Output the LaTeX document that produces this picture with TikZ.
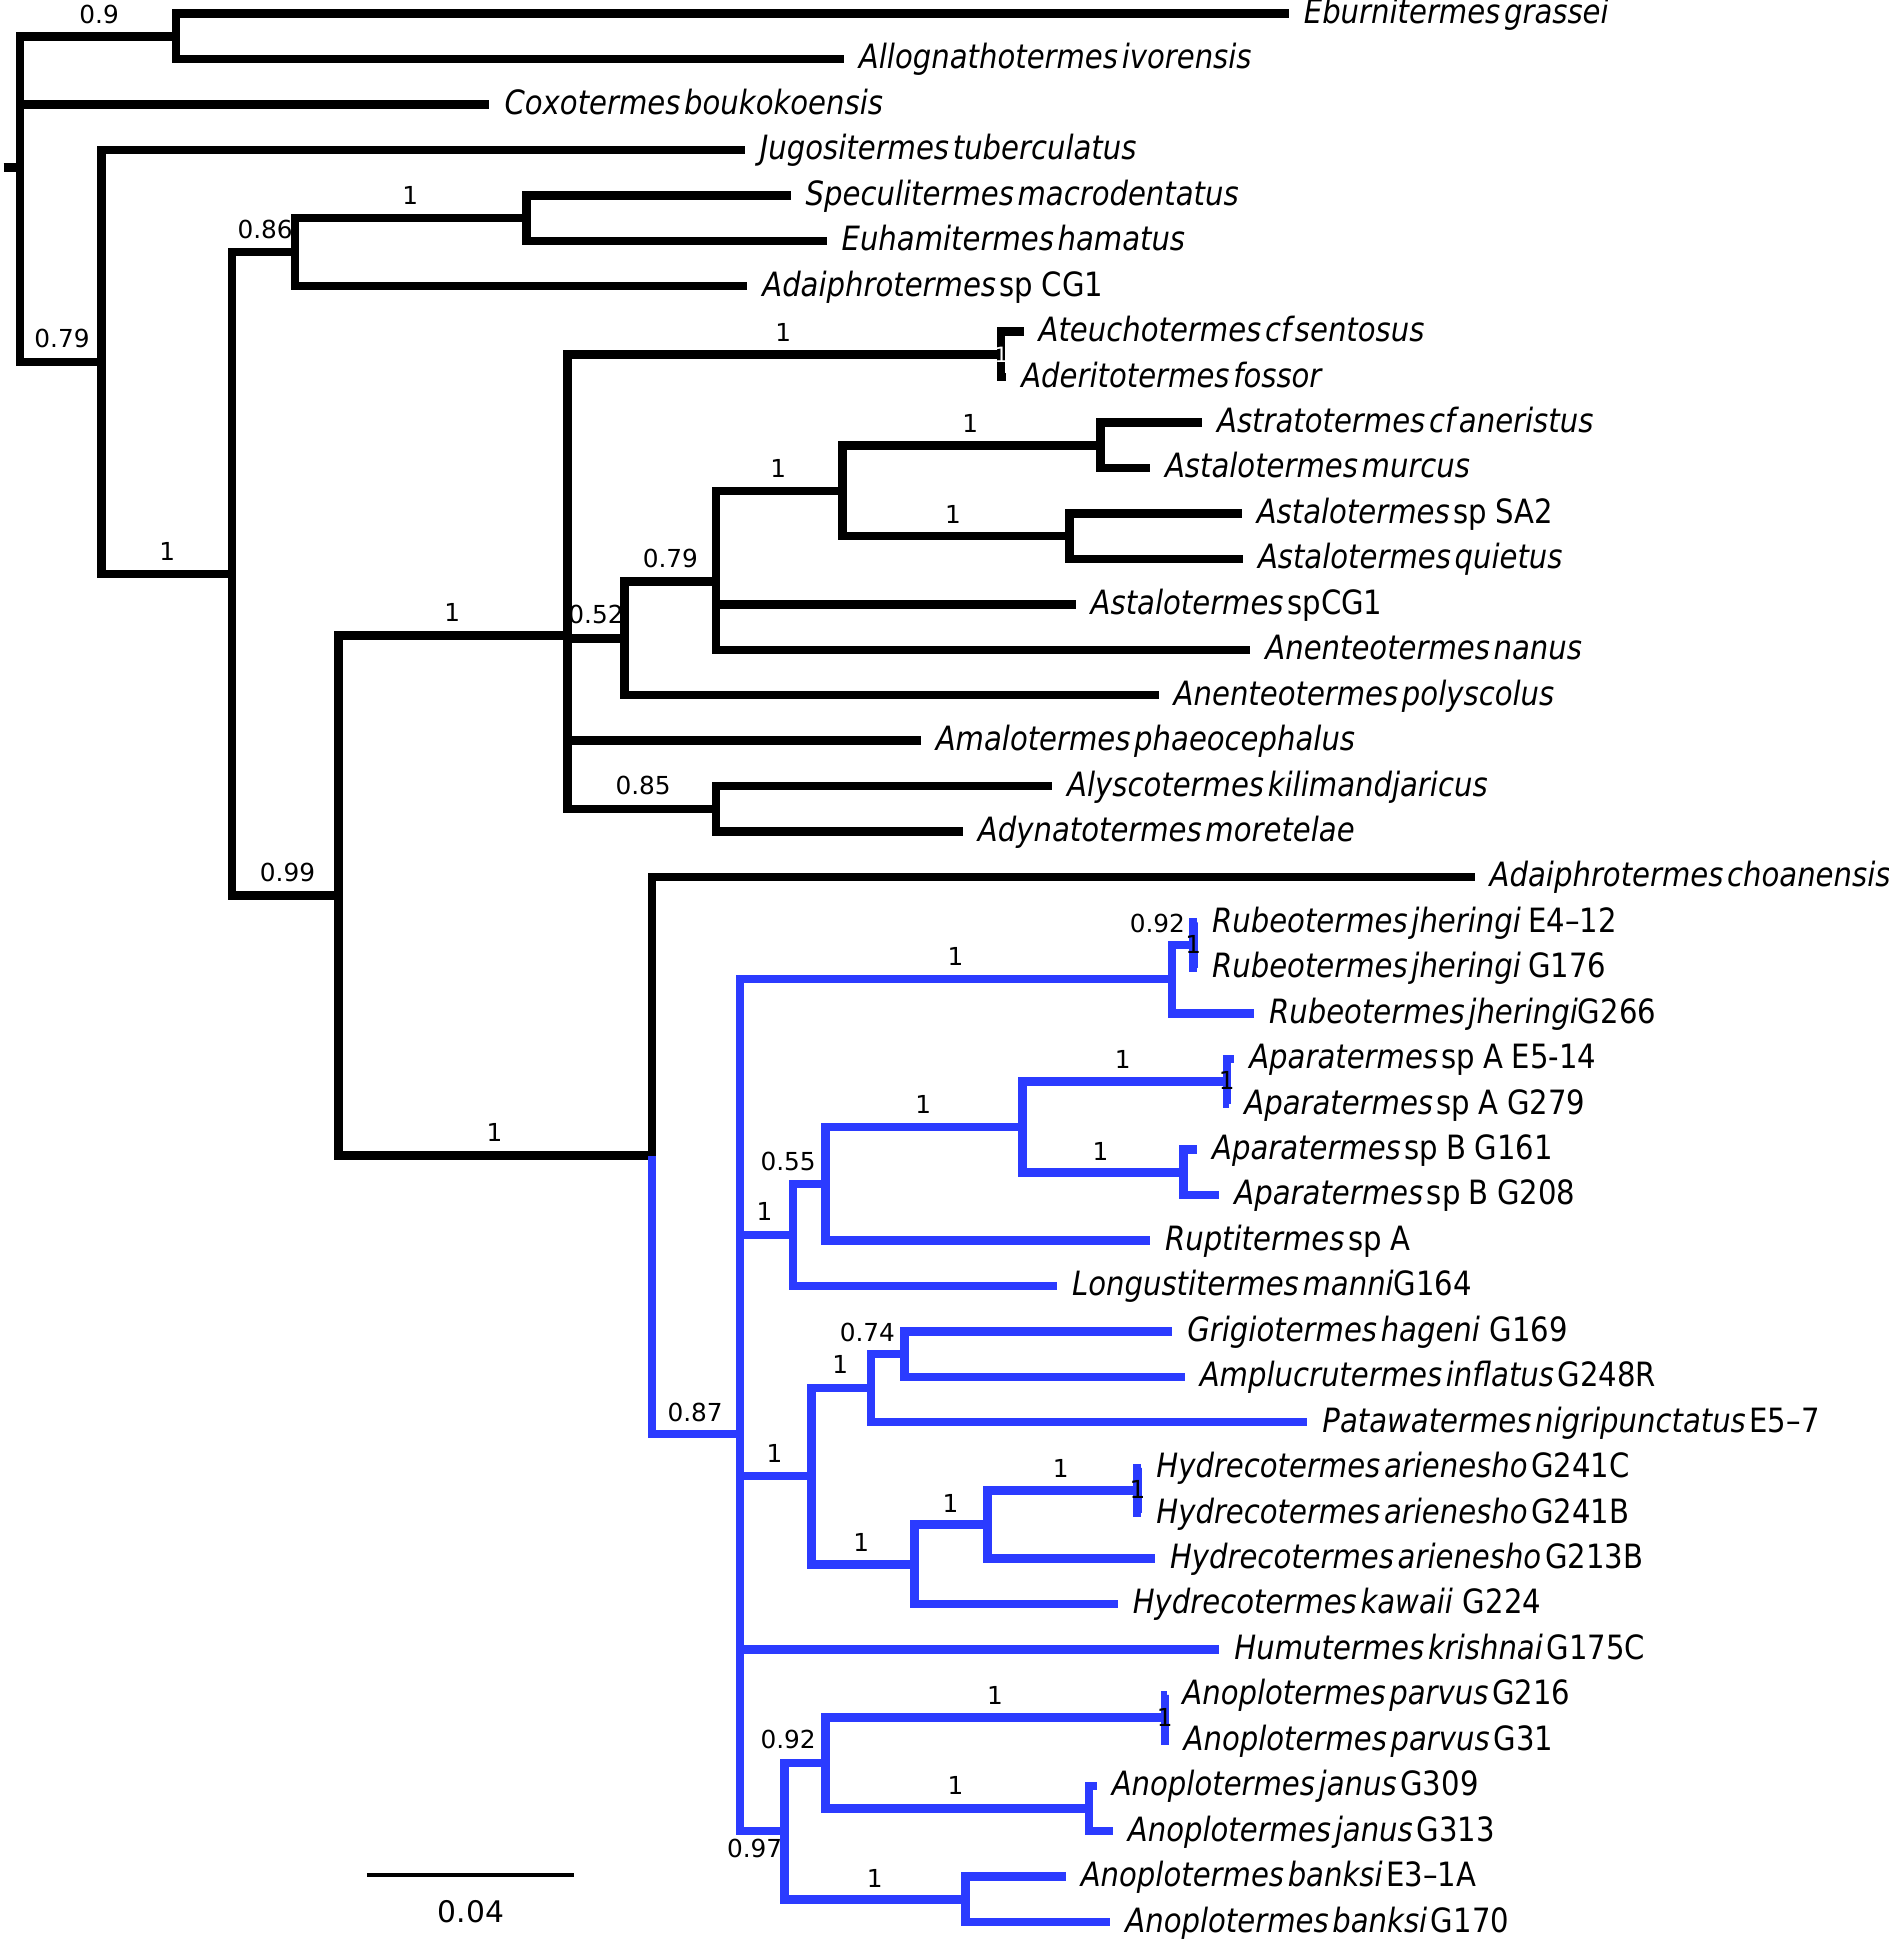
\documentclass[tikz,border=0pt]{standalone}
\usepackage{fontspec}
\setmainfont{DejaVu Sans}[FakeStretch=0.87, WordSpace=0.4]
\newfontfamily\upfam{DejaVu Sans}[FakeStretch=0.87, WordSpace=0.9]
\newfontfamily\supfont{DejaVu Sans}
\definecolor{treeblue}{RGB}{43,59,255}
\tikzset{
  br/.style={line width=6.8pt, line join=miter, line cap=butt},
  blk/.style={br, draw=black},
  blu/.style={br, draw=treeblue},
  lab/.style={anchor=base west, inner sep=0pt, font=\fontsize{27}{29}\selectfont\itshape},
  sup/.style={inner sep=0pt, font=\supfont\fontsize{20}{22}\selectfont},
  supw/.style={sup, text=white, font=\supfont\fontsize{17}{19}\selectfont},
}
\newcommand\up[1]{{\upfam\upshape #1}}
\newcommand\leaf[4]{%
  \coordinate (#1) at (#2,#3);
  \node[lab, xshift=12pt, yshift=-8pt] (#1n) at (#1) {#4};}
\begin{document}
\begin{tikzpicture}[x=1pt,y=-1pt]
\useasboundingbox (0,0) rectangle (1524,1568);
% leaves
\leaf{t1}{1040}{11.00}{Eburnitermes grassei}
\leaf{t2}{681}{47.67}{Allognathotermes ivorensis}
\leaf{t3}{395}{84.34}{Coxotermes boukokoensis}
\leaf{t4}{601}{121.01}{Jugositermes tuberculatus}
\leaf{t5}{638}{157.68}{Speculitermes macrodentatus}
\leaf{t6}{667}{194.35}{Euhamitermes hamatus}
\leaf{t7}{603}{231.02}{Adaiphrotermes \up{sp CG1}}
\leaf{t8}{826}{267.69}{Ateuchotermes cf sentosus}
\leaf{t9}{812}{304.36}{Aderitotermes fossor}
\leaf{t10}{970}{341.03}{Astratotermes cf aneristus}
\leaf{t11}{928}{377.70}{Astalotermes murcus}
\leaf{t12}{1002}{414.37}{Astalotermes \up{sp SA2}}
\leaf{t13}{1003}{451.04}{Astalotermes quietus}
\leaf{t14}{868}{487.71}{Astalotermes \up{spCG1}}
\leaf{t15}{1009}{524.38}{Anenteotermes nanus}
\leaf{t16}{935}{561.05}{Anenteotermes polyscolus}
\leaf{t17}{743}{597.72}{Amalotermes phaeocephalus}
\leaf{t18}{849}{634.39}{Alyscotermes kilimandjaricus}
\leaf{t19}{777}{671.06}{Adynatotermes moretelae}
\leaf{t20}{1190}{707.73}{Adaiphrotermes choanensis}
\leaf{t21}{966}{744.40}{Rubeotermes jheringi\hspace{6pt}\up{E4–12}}
\leaf{t22}{966}{781.07}{Rubeotermes jheringi\hspace{6pt}\up{G176}}
\leaf{t23}{1012}{817.74}{Rubeotermes jheringi\up{G266}}
\leaf{t24}{996}{854.41}{Aparatermes \up{sp A E5-14}}
\leaf{t25}{992}{891.08}{Aparatermes \up{sp A G279}}
\leaf{t26}{966}{927.75}{Aparatermes \up{sp B G161}}
\leaf{t27}{984}{964.42}{Aparatermes \up{sp B G208}}
\leaf{t28}{928}{1001.09}{Ruptitermes \up{sp A}}
\leaf{t29}{853}{1037.76}{Longustitermes manni\up{G164}}
\leaf{t30}{946}{1074.43}{Grigiotermes hageni\hspace{8pt}\up{G169}}
\leaf{t31}{956}{1111.10}{Amplucrutermes inflatus \up{G248R}}
\leaf{t32}{1055}{1147.77}{Patawatermes nigripunctatus \up{E5–7}}
\leaf{t33}{921}{1184.44}{Hydrecotermes arienesho \up{G241C}}
\leaf{t34}{921}{1221.11}{Hydrecotermes arienesho \up{G241B}}
\leaf{t35}{932}{1257.78}{Hydrecotermes arienesho \up{G213B}}
\leaf{t36}{902}{1294.45}{Hydrecotermes kawaii\hspace{8pt}\up{G224}}
\leaf{t37}{984}{1331.12}{Humutermes krishnai \up{G175C}}
\leaf{t38}{942}{1367.79}{Anoplotermes parvus \up{G216}}
\leaf{t39}{943}{1404.46}{Anoplotermes parvus \up{G31}}
\leaf{t40}{885}{1441.13}{Anoplotermes janus \up{G309}}
\leaf{t41}{898}{1477.80}{Anoplotermes janus \up{G313}}
\leaf{t42}{860}{1514.47}{Anoplotermes banksi \up{E3–1A}}
\leaf{t43}{896}{1551.14}{Anoplotermes banksi \up{G170}}
% internal nodes
\coordinate (rs) at (3,135.25);
\coordinate (root) at (16,135.25);
\coordinate (A) at (142,29.33);
\coordinate (B) at (82,292.07);
\coordinate (C) at (187,463.13);
\coordinate (D) at (238,203.52);
\coordinate (E) at (425,176.02);
\coordinate (F) at (273,722.74);
\coordinate (G) at (458,512.92);
\coordinate (H) at (808,286.03);
\coordinate (I) at (504,515.20);
\coordinate (J) at (578,469.38);
\coordinate (K) at (680,396.04);
\coordinate (L) at (888,359.37);
\coordinate (M) at (863,432.71);
\coordinate (N) at (578,652.73);
\coordinate (O) at (526,932.57);
\coordinate (P) at (597,1157.40);
\coordinate (Q) at (946,790.24);
\coordinate (R) at (963,762.74);
\coordinate (S) at (640,996.51);
\coordinate (T) at (666,955.26);
\coordinate (U) at (825,909.42);
\coordinate (V) at (990,872.75);
\coordinate (W) at (955,946.09);
\coordinate (X) at (655,1191.32);
\coordinate (Y) at (703,1120.27);
\coordinate (Z) at (730,1092.77);
\coordinate (AA) at (738,1262.37);
\coordinate (AB) at (797,1230.28);
\coordinate (AC) at (918,1202.78);
\coordinate (AD) at (633,1477.80);
\coordinate (AE) at (666,1422.80);
\coordinate (AF) at (940,1386.13);
\coordinate (AG) at (879,1459.47);
\coordinate (AH) at (779,1532.81);
% black branches
\draw[blk] (rs) -- (root);
\foreach \c in {A,t3,B} \draw[blk] (root) |- (\c);
\foreach \c in {t1,t2} \draw[blk] (A) |- (\c);
\foreach \c in {t4,C} \draw[blk] (B) |- (\c);
\foreach \c in {D,F} \draw[blk] (C) |- (\c);
\foreach \c in {E,t7} \draw[blk] (D) |- (\c);
\foreach \c in {t5,t6} \draw[blk] (E) |- (\c);
\foreach \c in {G,O} \draw[blk] (F) |- (\c);
\foreach \c in {H,I,t17,N} \draw[blk] (G) |- (\c);
\foreach \c in {t8,t9} \draw[blk] (H) |- (\c);
\foreach \c in {J,t16} \draw[blk] (I) |- (\c);
\foreach \c in {K,t14,t15} \draw[blk] (J) |- (\c);
\foreach \c in {L,M} \draw[blk] (K) |- (\c);
\foreach \c in {t10,t11} \draw[blk] (L) |- (\c);
\foreach \c in {t12,t13} \draw[blk] (M) |- (\c);
\foreach \c in {t18,t19} \draw[blk] (N) |- (\c);
% blue branches
\draw[blu] (O) |- (P);
\draw[blk] (O) |- (t20);
\foreach \c in {Q,S,X,t37,AD} \draw[blu] (P) |- (\c);
\foreach \c in {R,t23} \draw[blu] (Q) |- (\c);
\foreach \c in {t21,t22} \draw[blu] (R) |- (\c);
\foreach \c in {T,t29} \draw[blu] (S) |- (\c);
\foreach \c in {U,t28} \draw[blu] (T) |- (\c);
\foreach \c in {V,W} \draw[blu] (U) |- (\c);
\foreach \c in {t24,t25} \draw[blu] (V) |- (\c);
\foreach \c in {t26,t27} \draw[blu] (W) |- (\c);
\foreach \c in {Y,AA} \draw[blu] (X) |- (\c);
\foreach \c in {Z,t32} \draw[blu] (Y) |- (\c);
\foreach \c in {t30,t31} \draw[blu] (Z) |- (\c);
\foreach \c in {AB,t36} \draw[blu] (AA) |- (\c);
\foreach \c in {AC,t35} \draw[blu] (AB) |- (\c);
\foreach \c in {t33,t34} \draw[blu] (AC) |- (\c);
\foreach \c in {AE,AH} \draw[blu] (AD) |- (\c);
\foreach \c in {AF,AG} \draw[blu] (AE) |- (\c);
\foreach \c in {t38,t39} \draw[blu] (AF) |- (\c);
\foreach \c in {t40,t41} \draw[blu] (AG) |- (\c);
\foreach \c in {t42,t43} \draw[blu] (AH) |- (\c);
% support values
\node[sup] (sA) at (80,12) {0.9};
\node[sup] (sB) at (50,273) {0.79};
\node[sup] (sC) at (135,445) {1};
\node[sup] (sD) at (214,185) {0.86};
\node[sup] (sE) at (331,158) {1};
\node[sup] (sF) at (232,704) {0.99};
\node[sup] (sG) at (365,494) {1};
\node[sup] (sH) at (632,268) {1};
\node[supw] (sH2) at (808,286) {1};
\node[sup] (sI) at (481,496) {0.52};
\node[sup] (sJ) at (541,451) {0.79};
\node[sup] (sK) at (628,378) {1};
\node[sup] (sL) at (783,342) {1};
\node[sup] (sM) at (769,415) {1};
\node[sup] (sN) at (519,634) {0.85};
\node[sup] (sO) at (399,914) {1};
\node[sup] (sP) at (561,1140) {0.87};
\node[sup] (sQ) at (771,772) {1};
\node[sup] (sR) at (934,745) {0.92};
\node[sup] (sR2) at (963,762) {1};
\node[sup] (sS) at (617,978) {1};
\node[sup] (sT) at (636,937) {0.55};
\node[sup] (sU) at (745,891) {1};
\node[sup] (sV) at (906,855) {1};
\node[sup] (sV2) at (990,872) {1};
\node[sup] (sW) at (888,929) {1};
\node[sup] (sX) at (625,1173) {1};
\node[sup] (sY) at (678,1101) {1};
\node[sup] (sZ) at (700,1075) {0.74};
\node[sup] (sAA) at (695,1245) {1};
\node[sup] (sAB) at (767,1213) {1};
\node[sup] (sAC) at (856,1185) {1};
\node[sup] (sAC2) at (918,1202) {1};
\node[sup] (sAD) at (609,1492) {0.97};
\node[sup] (sAE) at (636,1404) {0.92};
\node[sup] (sAF) at (803,1368) {1};
\node[sup] (sAF2) at (940,1386) {1};
\node[sup] (sAG) at (771,1441) {1};
\node[sup] (sAH) at (706,1516) {1};
% scale bar
\coordinate (sb1) at (296,1513);
\coordinate (sb2) at (463,1513);
\draw[line width=2.9pt] (sb1) -- (sb2);
\node[inner sep=0pt, font=\supfont\fontsize{24}{26}\selectfont] (sbl) at (380,1543) {0.04};
\end{tikzpicture}
\end{document}
